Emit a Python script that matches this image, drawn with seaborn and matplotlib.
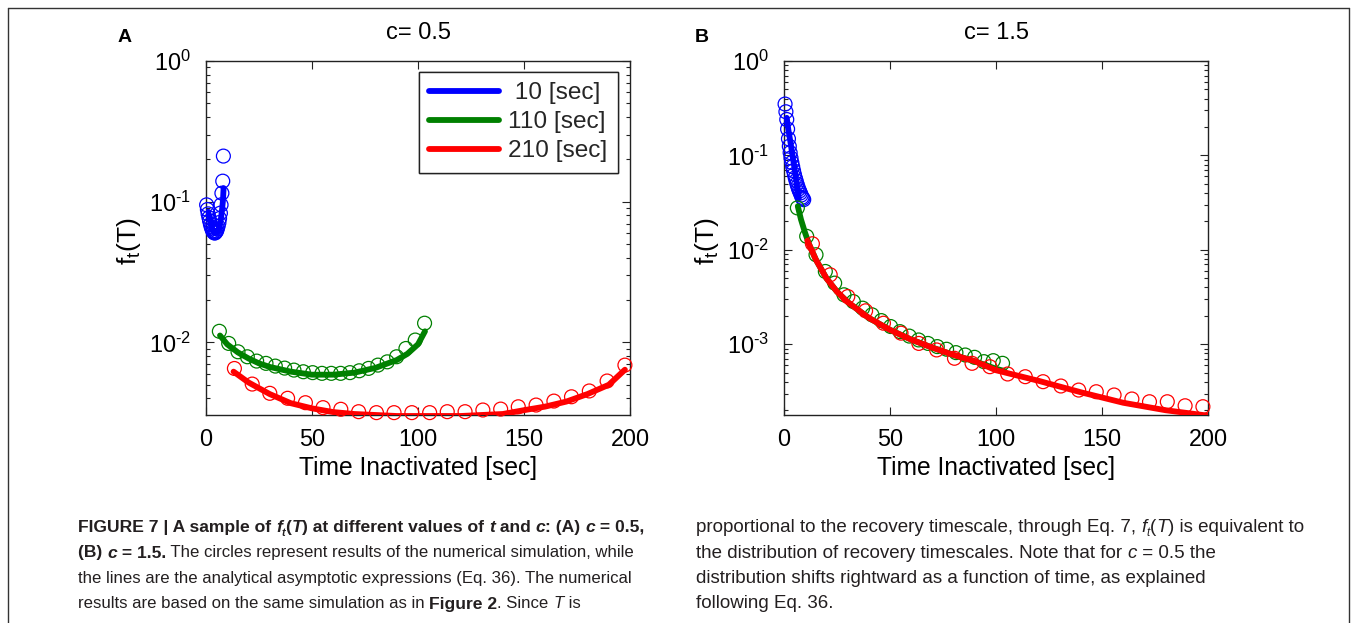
import numpy as np
import matplotlib
matplotlib.use("Agg")
import matplotlib.pyplot as plt
import seaborn as sns
from matplotlib.lines import Line2D
from matplotlib.ticker import LogLocator, NullFormatter, FuncFormatter
from matplotlib import font_manager

W, H = 1356, 623

# ---------------- data ----------------
series_labels = [" 10 [sec]", "110 [sec]", "210 [sec]"]
series_colors = ["#0000ff", "#008000", "#ff0000"]

# simulation time grids (circles)
T_blue_A = [0.3, 0.66, 1.0, 1.4, 1.7, 2.1, 2.5, 2.8, 3.2, 3.5, 3.9, 4.3, 4.6, 5.0, 5.3, 5.7, 6.1, 6.4, 6.8, 7.1, 7.5, 7.9, 8.2]
T_blue_B = [0.5, 0.9, 1.3, 1.7, 2.1, 2.5, 2.9, 3.3, 3.7, 4.1, 4.5, 4.9, 5.3, 5.7, 6.1, 6.5, 6.9, 7.3, 7.7, 8.1, 8.5, 8.9, 9.3]
T_green = [6.3, 10.7, 15.1, 19.5, 23.9, 28.3, 32.7, 37.1, 41.5, 45.9, 50.3, 54.7, 59.1, 63.5, 67.9, 72.3, 76.7, 81.1, 85.5, 89.9, 94.3, 98.7, 103.1]
T_red = [13.4, 21.8, 30.1, 38.5, 46.9, 55.2, 63.6, 72.0, 80.4, 88.7, 97.1, 105.5, 113.8, 122.2, 130.6, 139.0, 147.3, 155.7, 164.1, 172.4, 180.8, 189.2, 197.6]

# panel A (c = 0.5) simulation
sim_blue_A = [0.095, 0.088, 0.082, 0.077, 0.073, 0.069, 0.066, 0.064, 0.062, 0.061, 0.060, 0.060, 0.061, 0.062, 0.064, 0.067, 0.071, 0.076, 0.083, 0.095, 0.115, 0.140, 0.211]
sim_green_A = [0.0120, 0.00984, 0.00858, 0.00791, 0.00737, 0.0071, 0.00679, 0.00657, 0.00636, 0.00619, 0.0061, 0.00603, 0.00603, 0.00603, 0.0061, 0.00629, 0.00654, 0.0069, 0.00728, 0.00791, 0.00906, 0.0104, 0.0137]
sim_red_A = [0.00653, 0.00506, 0.00435, 0.00401, 0.00373, 0.00344, 0.00335, 0.00322, 0.00317, 0.00317, 0.00317, 0.00317, 0.00322, 0.00322, 0.00331, 0.00336, 0.00349, 0.00359, 0.00383, 0.00411, 0.00452, 0.00532, 0.00690]

# panel A analytical lines
Tl_blue_A = [1.0, 2.0, 3.0, 4.0, 5.0, 6.0, 7.0, 7.5, 8.0, 8.3]
an_blue_A = [0.085, 0.072, 0.064, 0.060, 0.060, 0.064, 0.075, 0.086, 0.102, 0.125]
Tl_green_A = [6.6, 10, 15, 20, 25, 30, 40, 50, 60, 70, 80, 90, 95, 100, 103.3]
an_green_A = [0.0112, 0.0097, 0.0085, 0.0077, 0.0071, 0.0067, 0.0062, 0.0059, 0.0059, 0.0061, 0.0066, 0.0075, 0.0083, 0.0097, 0.0120]
Tl_red_A = [13, 20, 30, 40, 50, 60, 70, 80, 90, 100, 110, 120, 130, 140, 150, 160, 170, 180, 190, 197.6]
an_red_A = [0.0062, 0.0052, 0.0043, 0.0037, 0.0034, 0.0032, 0.0031, 0.00305, 0.0030, 0.0030, 0.0030, 0.0030, 0.00305, 0.0031, 0.0033, 0.0035, 0.0038, 0.0043, 0.0050, 0.0064]

# panel B (c = 1.5) simulation
sim_blue_B = [0.35, 0.29, 0.24, 0.19, 0.15, 0.125, 0.107, 0.094, 0.084, 0.076, 0.069, 0.063, 0.058, 0.054, 0.050, 0.047, 0.044, 0.042, 0.040, 0.038, 0.036, 0.035, 0.034]
sim_green_B = [0.0278, 0.0139, 0.00887, 0.0059, 0.00444, 0.00334, 0.00283, 0.00241, 0.00205, 0.00178, 0.00154, 0.00136, 0.00122, 0.00111, 0.00102, 0.000944, 0.000885, 0.000815, 0.000769, 0.000727, 0.000654, 0.00067, 0.000628]
sim_red_B = [0.0116, 0.00544, 0.0032, 0.00226, 0.00167, 0.00131, 0.00102, 0.00087, 0.00071, 0.000628, 0.000578, 0.000484, 0.000453, 0.000401, 0.000361, 0.000327, 0.000314, 0.00029, 0.000263, 0.000246, 0.000246, 0.000223, 0.000218]

# panel B analytical lines
Tl_blue_B = [1.3, 2, 3, 4, 5, 6, 7]
an_blue_B = [0.25, 0.19, 0.14, 0.10, 0.072, 0.050, 0.035]
Tl_green_B = [6.5, 8, 10, 12, 15, 20, 25, 30, 40, 50, 60, 70, 80, 90, 100, 104]
an_green_B = [0.029, 0.021, 0.015, 0.0112, 0.0079, 0.0050, 0.0036, 0.0028, 0.0019, 0.00142, 0.00112, 0.00092, 0.00077, 0.00066, 0.00055, 0.00052]
Tl_red_B = [11, 12, 15, 20, 25, 30, 40, 50, 60, 70, 80, 90, 100, 120, 140, 160, 180, 200]
an_red_B = [0.0125, 0.0112, 0.0079, 0.0050, 0.0036, 0.0028, 0.0019, 0.00142, 0.00112, 0.00092, 0.00077, 0.00066, 0.00053, 0.00041, 0.00031, 0.00024, 0.00020, 0.000175]

panel_titles = ["c= 0.5", "c= 1.5"]
panel_letters = ["A", "B"]
x_ticks = [0, 50, 100, 150, 200]
x_label = "Time Inactivated [sec]"
y_label = r"$\mathregular{f_t(T)}$"
y_bottoms = [0.00305, 0.000178]

# ---------------- style ----------------
sns.set_theme(style="ticks")
plt.rcParams["font.family"] = ["Liberation Sans", "DejaVu Sans"]
plt.rcParams["mathtext.fontset"] = "custom"
plt.rcParams["mathtext.rm"] = "Liberation Sans"
plt.rcParams["mathtext.it"] = "Liberation Sans:italic"
plt.rcParams["mathtext.bf"] = "Liberation Sans:bold"
plt.rcParams["axes.edgecolor"] = "#222222"

fig = plt.figure(figsize=(W / 100, H / 100), dpi=100)
fig.patch.set_facecolor("white")

panel_lefts = [206, 784]
ax_w, ax_top, ax_bot = 424, 61, 415

panels = [
    dict(sims=[(T_blue_A, sim_blue_A), (T_green, sim_green_A), (T_red, sim_red_A)],
         lines=[(Tl_blue_A, an_blue_A), (Tl_green_A, an_green_A), (Tl_red_A, an_red_A)]),
    dict(sims=[(T_blue_B, sim_blue_B), (T_green, sim_green_B), (T_red, sim_red_B)],
         lines=[(Tl_blue_B, an_blue_B), (Tl_green_B, an_green_B), (Tl_red_B, an_red_B)]),
]


def ytick_fmt(v, pos):
    e = int(round(np.log10(v)))
    if e < 0:
        return r"$\mathregular{10^{\text{-}%d}}$" % (-e)
    return r"$\mathregular{10^{%d}}$" % e


for i, p in enumerate(panels):
    left = panel_lefts[i]
    ax = fig.add_axes([left / W, 1 - ax_bot / H, ax_w / W, (ax_bot - ax_top) / H])
    ax.set_facecolor("white")
    z = 3
    for (ts, vs), (tl, vl), col in zip(p["sims"], p["lines"], series_colors):
        sns.scatterplot(x=ts, y=vs, ax=ax, marker="o", s=100, color=col,
                        facecolor="none", edgecolor=col, linewidth=0.9,
                        zorder=z, clip_on=False, legend=False)
        sns.lineplot(x=tl, y=vl, ax=ax, color=col, linewidth=4.2, sort=False,
                     estimator=None, zorder=z + 1, legend=False)
        z += 2
    ax.set_yscale("log")
    ax.set_xlim(0, 200)
    ax.set_ylim(y_bottoms[i], 1)
    ax.set_xticks(x_ticks)
    ax.set_xticklabels([str(t) for t in x_ticks])
    ax.yaxis.set_major_locator(LogLocator(base=10, numticks=12))
    ax.yaxis.set_minor_locator(LogLocator(base=10, subs=np.arange(2, 10), numticks=12))
    ax.yaxis.set_minor_formatter(NullFormatter())
    ax.yaxis.set_major_formatter(FuncFormatter(ytick_fmt))
    ax.tick_params(which="both", direction="in", top=True, right=True,
                   labelsize=16.8, width=0.8, colors="#222222", labelcolor="black")
    ax.tick_params(axis="x", which="major", length=6, pad=9)
    ax.tick_params(axis="y", which="major", length=6, pad=11)
    ax.tick_params(which="minor", length=3)
    for sp in ax.spines.values():
        sp.set_visible(True)
        sp.set_linewidth(1.0)
        sp.set_color("#222222")
    ax.set_xlabel(x_label, fontsize=17.7, labelpad=4, color="black")
    ax.set_ylabel(y_label, fontsize=19, color="black")
    ax.yaxis.set_label_coords(-63 / ax_w, 0.49)
    ax.text(0.5, (ax_bot - 33) / (ax_bot - ax_top), panel_titles[i], transform=ax.transAxes,
            ha="center", va="center", fontsize=17, color="black")
    fig.text((125 if i == 0 else 702) / W, 1 - 38 / H, panel_letters[i], ha="center", va="center",
             fontsize=14, fontweight="bold", color="black")

    handles = [Line2D([], [], color=c, lw=4.2) for c in series_colors]
    leg = ax.legend(handles, series_labels, loc="upper right",
                    bbox_to_anchor=((618 - left) / ax_w, (ax_bot - 72) / (ax_bot - ax_top)),
                    borderaxespad=0, frameon=True, fancybox=False, edgecolor="#222222",
                    fontsize=17.6, handlelength=2.85, handletextpad=0.4, labelspacing=0.28,
                    borderpad=0.42, framealpha=1)
    leg.get_frame().set_linewidth(1.0)

# figure frame
for (xs, ys) in [([7.5, 7.5], [640, 7.5]), ([7.5, 1348.5], [7.5, 7.5]), ([1348.5, 1348.5], [7.5, 640])]:
    fig.add_artist(Line2D([x / W for x in xs], [1 - y / H for y in ys], color="#333333", lw=1.0))

# ---------------- caption ----------------
avail = {f.name for f in font_manager.fontManager.ttflist}
cap_family = ["Liberation Sans Narrow"] if "Liberation Sans Narrow" in avail else ["Liberation Sans"]
narrow = cap_family[0] == "Liberation Sans Narrow"

renderer = fig.canvas.get_renderer()


def seg_width(s, size, weight, style):
    t1 = fig.text(0, 0, "|" + s + "|", fontsize=size, fontweight=weight, fontstyle=style, family=cap_family)
    t2 = fig.text(0, 0, "||", fontsize=size, fontweight=weight, fontstyle=style, family=cap_family)
    w = t1.get_window_extent(renderer).width - t2.get_window_extent(renderer).width
    t1.remove(); t2.remove()
    return w


def rich_line(x_px, y_px, segs, cap_size, bold_scale=1.0):
    x = x_px
    for s, weight, style, sub in segs:
        size = cap_size * (0.62 if sub else 1.0) * (bold_scale if weight == "bold" else 1.0)
        dy = 3.5 if sub else 0
        fig.text(x / W, 1 - (y_px + dy) / H, s, fontsize=size, fontweight=weight, fontstyle=style,
                 family=cap_family, ha="left", va="baseline", color="#231f20")
        x += seg_width(s, size, weight, style)


B, N, I = "bold", "normal", "italic"
left_lines = [
    [("FIGURE 7 | A sample of ", B, N, 0), ("f", B, I, 0), ("t", B, I, 1), ("(", B, N, 0), ("T", B, I, 0),
     (") at different values of ", B, N, 0), ("t", B, I, 0), (" and ", B, N, 0), ("c", B, I, 0),
     (": (A) ", B, N, 0), ("c", B, I, 0), (" = 0.5,", B, N, 0)],
    [("(B) ", B, N, 0), ("c", B, I, 0), (" = 1.5.", B, N, 0),
     (" The circles represent results of the numerical simulation, while", N, N, 0)],
    [("the lines are the analytical asymptotic expressions (Eq. 36). The numerical", N, N, 0)],
    [("results are based on the same simulation as in ", N, N, 0), ("Figure 2", B, N, 0),
     (". Since ", N, N, 0), ("T", N, I, 0), (" is", N, N, 0)],
]
right_lines = [
    [("proportional to the recovery timescale, through Eq. 7, ", N, N, 0), ("f", N, I, 0), ("t", N, I, 1),
     ("(", N, N, 0), ("T", N, I, 0), (") is equivalent to", N, N, 0)],
    [("the distribution of recovery timescales. Note that for ", N, N, 0), ("c", N, I, 0),
     (" = 0.5 the", N, N, 0)],
    [("distribution shifts rightward as a function of time, as explained", N, N, 0)],
    [("following Eq. 36.", N, N, 0)],
]
left_size = 14.4 if narrow else 12.1
right_size = 16.2 if narrow else 13.5
baselines = [532, 557.5, 583, 608.5]
for yb, segs in zip(baselines, left_lines):
    rich_line(78, yb, segs, left_size, bold_scale=1.04)
for yb, segs in zip(baselines, right_lines):
    rich_line(696, yb, segs, right_size)

fig.savefig("out.png", dpi=100, facecolor="white")
